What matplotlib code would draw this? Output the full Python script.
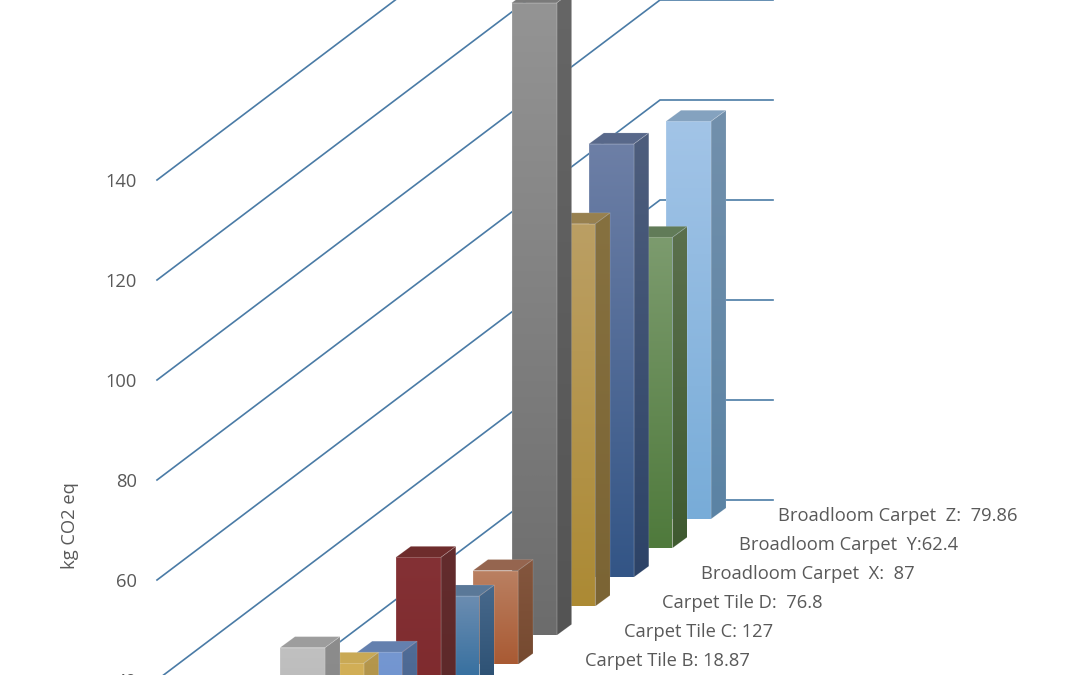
import matplotlib
matplotlib.use("Agg")
import matplotlib.pyplot as plt
import numpy as np
from matplotlib.colors import to_rgb
from matplotlib.patches import Polygon

plt.rcParams['font.family'] = ['Open Sans', 'DejaVu Sans']

# back to front
values = [79.86, 62.4, 87, 76.8, 127, 18.87, 19.6, 33.2, 20, 23.6, 32.6]
labels = ['Broadloom Carpet  Z:  79.86', 'Broadloom Carpet  Y:62.4', 'Broadloom Carpet  X:  87',
          'Carpet Tile D:  76.8', 'Carpet Tile C: 127', 'Carpet Tile B: 18.87']
y_ticks = [40, 60, 80, 100, 120, 140]
grid_levels = [0, 20, 40, 60, 80, 100, 120, 140]

# (front top, front bottom, side top, side bottom, top face)
colors = [
    ('#a2c4e7', '#78acd8', '#7290ac', '#5b83a4', '#84a2bf'),
    ('#7c9b6e', '#4f7a3c', '#5b704d', '#3f5a30', '#617b58'),
    ('#6d7fa6', '#335586', '#4e5e7d', '#2d4367', '#58688a'),
    ('#bb9f64', '#ac8a34', '#867140', '#7b6434', '#97804f'),
    ('#949494', '#6c6c6c', '#666666', '#545454', '#7a7a7a'),
    ('#ba8062', '#a95a33', '#84563e', '#764a30', '#95654f'),
    ('#6c8db1', '#2c6a9c', '#48698c', '#294e71', '#5a7898'),
    ('#843135', '#7d292c', '#632c2d', '#5c2829', '#6e2c2c'),
    ('#7597d1', '#6a8fcb', '#506c97', '#46628c', '#6480ae'),
    ('#d2af57', '#c9a54b', '#b5974d', '#aa8c42', '#c9a955'),
    ('#c0c0c0', '#b0b0b0', '#8d8d8d', '#808080', '#9d9d9d'),
]

GRID = '#4a7ba6'
TEXT = '#595959'
PX = 4.98         # pixels per kg
BAR_W = 45
DEPTH_X, DEPTH_Y = 15, -11
FS = 13.2


def wall(level):
    # left end, back corner and right end of one grid line
    return [(157, 880 - 5 * level), (660, 500 - 5 * level), (773, 500 - 5 * level)]


def bar_x(i):
    return 666 - 38.6 * i


def bar_base(i):
    return 519 + 29.1 * i


def shade(ax, poly, c0, c1, y0, y1, x0, x1, z):
    # vertical gradient clipped to a face
    a, b = np.array(to_rgb(c0)), np.array(to_rgb(c1))
    t = np.linspace(0, 1, 128)[:, None, None]
    img = a[None, None, :] * (1 - t) + b[None, None, :] * t
    im = ax.imshow(img, extent=(x0, x1, y1, y0), origin='upper', aspect='auto', zorder=z,
                   interpolation='bilinear')
    patch = Polygon(poly, closed=True, transform=ax.transData, fc='none', ec='none')
    ax.add_patch(patch)
    im.set_clip_path(patch)


def draw_bar(ax, i, v, cols, z):
    x, base = bar_x(i), bar_base(i)
    top = base - PX * v
    r = x + BAR_W
    front = [(x, top), (r, top), (r, base), (x, base)]
    side = [(r, top), (r + DEPTH_X, top + DEPTH_Y), (r + DEPTH_X, base + DEPTH_Y), (r, base)]
    cap = [(x, top), (x + DEPTH_X, top + DEPTH_Y), (r + DEPTH_X, top + DEPTH_Y), (r, top)]
    shade(ax, front, cols[0], cols[1], top, base, x, r, z)
    shade(ax, side, cols[2], cols[3], top + DEPTH_Y, base, r, r + DEPTH_X, z)
    ax.add_patch(Polygon(cap, closed=True, fc=cols[4], ec='none', zorder=z))
    for p in (front, side, cap):
        ax.add_patch(Polygon(p, closed=True, fc='none', ec='white', lw=0.6, alpha=0.14, zorder=z + 0.5))


fig = plt.figure(figsize=(10.8, 6.75), dpi=100)
ax = fig.add_axes([0, 0, 1, 1])

for level in grid_levels:
    xs, ys = zip(*wall(level))
    ax.plot(xs, ys, color=GRID, lw=1.2, zorder=1, solid_joinstyle='miter')

for i, (v, cols) in enumerate(zip(values, colors)):
    draw_bar(ax, i, v, cols, 2 + i)

for t in y_ticks:
    ax.text(137, 880 - 5 * t + 2, str(t), ha='right', va='center', fontsize=FS, color=TEXT, zorder=20)

ax.text(70, 526, 'kg CO2 eq', rotation=90, ha='center', va='center', fontsize=FS, color=TEXT, zorder=20)

for i, s in enumerate(labels):
    ax.text(bar_x(i) + 112, bar_base(i) - 3, s, ha='left', va='center', fontsize=FS, color=TEXT, zorder=20)

ax.set_xlim(0, 1080)
ax.set_ylim(675, 0)
ax.axis('off')
fig.savefig('out.png', dpi=100)
